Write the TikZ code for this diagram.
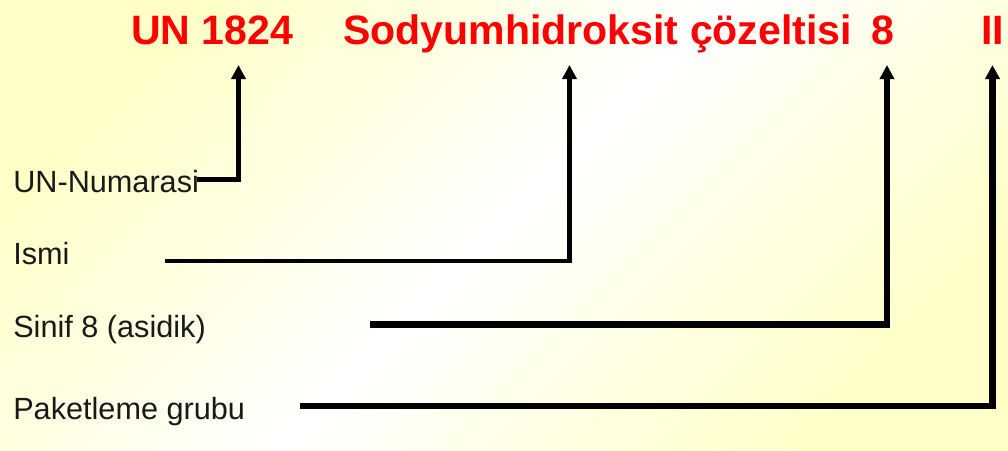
\documentclass[tikz,border=0pt]{standalone}
\usepackage{fontspec}
\setmainfont{Liberation Sans}
\usepackage{tikz}
\usetikzlibrary{arrows.meta}

\definecolor{bgyel}{RGB}{255,255,200}
\definecolor{tred}{RGB}{255,0,0}

\begin{document}
\begin{tikzpicture}[
      x=0.025cm, y=-0.025cm,
      >={Triangle[width=10pt, length=10pt]},
      hd/.style={text=tred, font=\fontsize{29.2}{31}\selectfont\bfseries,
                 inner sep=0pt, anchor=base west},
      lbl/.style={text=black!90, font=\fontsize{21.8}{24}\selectfont,
                  inner sep=0pt, anchor=base west},
      ptr/.style={->, draw=black, line width=3pt},
      ptrb/.style={ptr, line width=4.3pt}]
    % background
    \shade[top color=bgyel, bottom color=bgyel, middle color=white,
           shading angle=45] (0,0) rectangle (1008,451);
    % top line: UN number, name, class, group
    \node[hd] (un)    at (131,45)  {UN 1824};
    \node[hd] (name)  at (343,45)  {Sodyumhidroksit çözeltisi};
    \node[hd, anchor=base] (cls) at (882.5,45) {8};
    \node[hd, anchor=base] (grp) at (992.5,45) {II};
    % labels on the left
    \node[lbl] (unno)  at (13,193)  {UN-Numarasi};
    \node[lbl] (ismi)  at (13,265)  {Ismi};
    \node[lbl] (sinif) at (13,338)  {Sinif 8 (asidik)};
    \node[lbl] (paket) at (13,420)  {Paketleme grubu};
    % connector ends
    \coordinate (unno-o)  at (197,179.5);
    \coordinate (ismi-o)  at (165,261);
    \coordinate (sinif-o) at (370,324.5);
    \coordinate (paket-o) at (300,406);
    \coordinate (un-i)   at (238.5,65);
    \coordinate (name-i) at (569.5,65);
    \coordinate (cls-i)  at (887,65);
    \coordinate (grp-i)  at (992.5,65);
    % pointers
    \draw[ptr]  (unno-o)  -| (un-i);
    \draw[ptr]  (ismi-o)  -| (name-i);
    \draw[ptrb] (sinif-o) -| (cls-i);
    \draw[ptrb] (paket-o) -| (grp-i);
\end{tikzpicture}
\end{document}
